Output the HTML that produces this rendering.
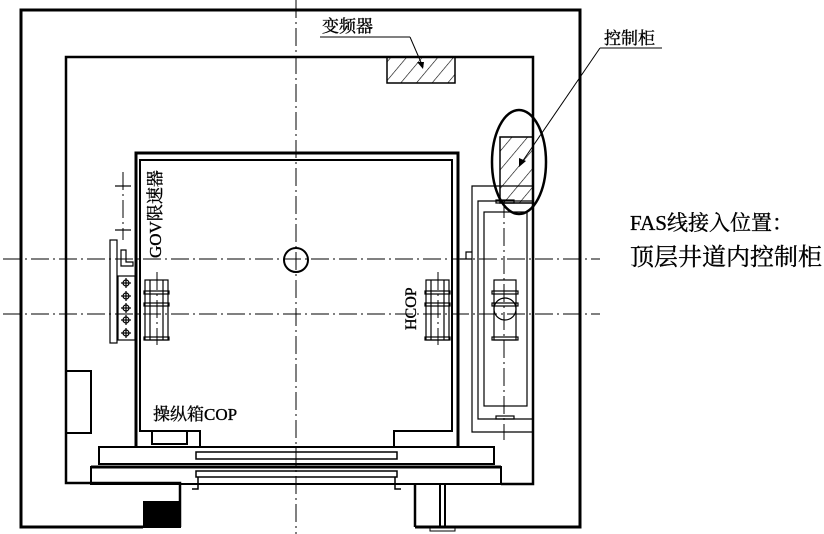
<!DOCTYPE html>
<html><head><meta charset="utf-8"><style>
html,body{margin:0;padding:0;background:#fff;width:824px;height:534px;overflow:hidden}
svg{display:block}
text{font-family:"Liberation Serif","Noto Serif CJK SC","Noto Sans CJK SC",serif;fill:#000;stroke:#000;stroke-width:0.35}
</style></head><body>
<svg width="824" height="534" viewBox="0 0 824 534" xmlns="http://www.w3.org/2000/svg">
<defs>
<pattern id="h" width="12" height="12" patternUnits="userSpaceOnUse" patternTransform="rotate(40)">
<line x1="0" y1="0" x2="0" y2="12" stroke="#000" stroke-width="1.2"/>
</pattern>
</defs>
<g fill="none" stroke="#000">
<g stroke-width="1" stroke-dasharray="18,4,2,4">
<line x1="296" y1="0" x2="296" y2="534"/>
<line x1="3" y1="259" x2="600" y2="259"/>
<line x1="3" y1="314" x2="600" y2="314"/>
<line x1="504" y1="200" x2="504" y2="440"/>
<line x1="123" y1="172" x2="123" y2="240"/>
<line x1="157" y1="272" x2="157" y2="345"/>
<line x1="438" y1="272" x2="438" y2="345"/>
</g>
<path d="M143 527 H21 V10 H580 V527 H415" stroke-width="3"/>
<path d="M180 527 V483 H66 V57 H533 V484 H501" stroke-width="2.5"/>
<path d="M415 527 V484" stroke-width="2.5"/>
<line x1="440" y1="484" x2="440" y2="528" stroke-width="2"/>
<line x1="445" y1="484" x2="445" y2="528" stroke-width="2"/>
<rect x="430" y="528" width="25" height="3" stroke-width="1"/>
<rect x="143" y="501" width="38" height="27" fill="#000" stroke="none"/>
<rect x="66" y="371" width="25" height="62" stroke-width="2"/>
<path d="M136 447 V153 H458 V447" stroke-width="3"/>
<path d="M200 447 V431 H140 V160 H452 V431 H394 V447" stroke-width="2"/>
<rect x="152" y="431" width="35" height="13" stroke-width="2"/>
<rect x="99" y="447" width="395" height="17" stroke-width="2"/>
<rect x="196" y="452" width="201" height="7" stroke-width="1.5"/>
<rect x="91" y="467" width="410" height="17" stroke-width="2"/>
<line x1="91" y1="467" x2="501" y2="467" stroke-width="3"/>
<rect x="196" y="471" width="201" height="6" stroke-width="1.5"/>
<path d="M198 477 V489 H192 M395 477 V489 H401" stroke-width="1.5"/>
<circle cx="296" cy="260" r="12" stroke-width="2"/>
<g stroke-width="1.2">
<rect x="145" y="280" width="23" height="60"/>
<rect x="144" y="291" width="25" height="3"/>
<rect x="144" y="303" width="25" height="3"/>
<rect x="144" y="337" width="25" height="3"/>
<line x1="150" y1="280" x2="150" y2="340"/>
<line x1="163" y1="280" x2="163" y2="340"/>
<rect x="426" y="280" width="23" height="60"/>
<rect x="425" y="291" width="25" height="3"/>
<rect x="425" y="303" width="25" height="3"/>
<rect x="425" y="337" width="25" height="3"/>
<line x1="431" y1="280" x2="431" y2="340"/>
<line x1="444" y1="280" x2="444" y2="340"/>
</g>
<g stroke-width="1.2">
<line x1="115" y1="186" x2="131" y2="186"/>
<line x1="115" y1="230" x2="131" y2="230"/>
<rect x="110" y="240" width="7" height="103"/>
<rect x="118" y="276" width="17" height="64"/>
<path d="M121 250 H126 V262 H133 V266 H121 Z"/>
<g>
<circle cx="126" cy="283" r="3"/><line x1="121" y1="283" x2="131" y2="283"/><line x1="126" y1="278" x2="126" y2="288"/>
<circle cx="126" cy="296" r="3"/><line x1="121" y1="296" x2="131" y2="296"/><line x1="126" y1="291" x2="126" y2="301"/>
<circle cx="126" cy="308" r="3"/><line x1="121" y1="308" x2="131" y2="308"/><line x1="126" y1="303" x2="126" y2="313"/>
<circle cx="126" cy="320" r="3"/><line x1="121" y1="320" x2="131" y2="320"/><line x1="126" y1="315" x2="126" y2="325"/>
<circle cx="126" cy="333" r="3"/><line x1="121" y1="333" x2="131" y2="333"/><line x1="126" y1="328" x2="126" y2="338"/>
</g>
</g>
<g stroke-width="1.2">
<path d="M533 186 H472 V432 H533"/>
<path d="M533 201 H478 V419 H533"/>
<rect x="484" y="212" width="43" height="194"/>
<rect x="494" y="280" width="22" height="60"/>
<rect x="492" y="291" width="26" height="3"/>
<rect x="492" y="303" width="26" height="3"/>
<rect x="492" y="337" width="26" height="3"/>
<circle cx="505" cy="309" r="11"/>
<rect x="496" y="200" width="18" height="3"/>
<rect x="496" y="416" width="18" height="3"/>
<path d="M472 252 H466 V259 M472 259 H460"/>
</g>
<rect x="387" y="57" width="68" height="26" fill="url(#h)" stroke-width="1.5"/>
<rect x="500" y="137" width="33" height="66" fill="url(#h)" stroke-width="1.5"/>
<ellipse cx="519" cy="162" rx="27" ry="52" stroke-width="2.5"/>
<line x1="320" y1="37" x2="410" y2="37" stroke-width="1"/>
<line x1="410" y1="37" x2="423" y2="67" stroke-width="1"/>
<line x1="600" y1="48" x2="662" y2="48" stroke-width="1"/>
<line x1="600" y1="48" x2="520" y2="165" stroke-width="1"/>
</g>
<polygon points="423,69 417,62 424,62" fill="#000"/>
<polygon points="519,167 519,158 526,161" fill="#000"/>
<text x="322" y="32" font-size="17">变频器</text>
<text x="604" y="44" font-size="17">控制柜</text>
<text x="153" y="420" font-size="17">操纵箱COP</text>
<text transform="translate(161,258) rotate(-90)" font-size="17">GOV限速器</text>
<text transform="translate(416,330) rotate(-90)" font-size="16">HCOP</text>
<text x="630" y="230" font-size="21">FAS线接入位置：</text>
<text x="630" y="265" font-size="24">顶层井道内控制柜</text>
</svg>
</body></html>
